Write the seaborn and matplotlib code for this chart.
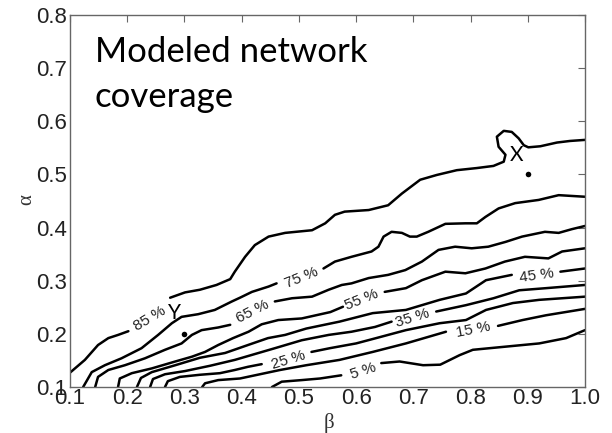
import numpy as np
import pandas as pd
import matplotlib
matplotlib.use("Agg")
import matplotlib.pyplot as plt
import seaborn as sns

# ---------------- data ----------------
levels = [85, 75, 65, 55, 45, 35, 25, 15, 5]

lv85_x = [0.100, 0.126, 0.149, 0.167, 0.184, 0.202,
          0.275, 0.301, 0.327, 0.356, 0.380, 0.388, 0.406, 0.423, 0.447, 0.476, 0.523,
          0.546, 0.563, 0.580, 0.622, 0.656, 0.680, 0.712, 0.741, 0.776, 0.811, 0.840,
          0.858, 0.861, 0.849, 0.846, 0.858, 0.872, 0.884, 0.893, 0.901, 0.922, 0.951,
          0.974, 1.000]
lv85_y = [0.127, 0.151, 0.179, 0.192, 0.198, 0.205,
          0.268, 0.278, 0.283, 0.292, 0.303, 0.317, 0.345, 0.367, 0.383, 0.390, 0.395,
          0.408, 0.424, 0.430, 0.433, 0.442, 0.464, 0.490, 0.499, 0.508, 0.512, 0.516,
          0.524, 0.537, 0.552, 0.571, 0.582, 0.580, 0.568, 0.555, 0.551, 0.553, 0.560,
          0.563, 0.565]
lv85_cut = 6

lv75_x = [0.123, 0.138, 0.161, 0.190, 0.225, 0.254, 0.278, 0.295, 0.324, 0.353, 0.383,
          0.397, 0.418, 0.447, 0.461,
          0.543, 0.563, 0.592, 0.627, 0.639, 0.648, 0.662, 0.680, 0.694, 0.706, 0.726,
          0.756, 0.791, 0.811, 0.826, 0.849, 0.878, 0.919, 0.954, 1.000]
lv75_y = [0.100, 0.128, 0.141, 0.154, 0.173, 0.198, 0.220, 0.232, 0.237, 0.245, 0.261,
          0.268, 0.279, 0.289, 0.295,
          0.323, 0.336, 0.345, 0.355, 0.364, 0.383, 0.392, 0.390, 0.383, 0.383, 0.392,
          0.407, 0.408, 0.408, 0.420, 0.436, 0.446, 0.452, 0.461, 0.458]
lv75_cut = 15

lv65_x = [0.144, 0.149, 0.167, 0.196, 0.231, 0.266, 0.295, 0.313, 0.330, 0.359, 0.380,
          0.458, 0.488, 0.523, 0.552, 0.575, 0.592, 0.622, 0.656, 0.686, 0.715, 0.744,
          0.773, 0.802, 0.831, 0.861, 0.890, 0.930, 0.954, 0.977, 1.000]
lv65_y = [0.100, 0.119, 0.132, 0.141, 0.154, 0.170, 0.182, 0.198, 0.207, 0.212, 0.217,
          0.261, 0.267, 0.270, 0.283, 0.292, 0.295, 0.305, 0.311, 0.320, 0.336, 0.358,
          0.364, 0.361, 0.364, 0.373, 0.383, 0.392, 0.390, 0.397, 0.403]
lv65_cut = 11

lv55_x = [0.184, 0.187, 0.208, 0.243, 0.284, 0.313, 0.336, 0.359, 0.385, 0.412, 0.435,
          0.464, 0.505, 0.555, 0.577,
          0.650, 0.687, 0.715, 0.756, 0.791, 0.826, 0.860, 0.895, 0.936, 0.960, 1.000]
lv55_y = [0.100, 0.116, 0.126, 0.135, 0.148, 0.157, 0.166, 0.179, 0.192, 0.204, 0.218,
          0.226, 0.229, 0.241, 0.251,
          0.279, 0.286, 0.301, 0.317, 0.314, 0.323, 0.336, 0.345, 0.342, 0.355, 0.361]
lv55_cut = 15

lv45_x = [0.217, 0.224, 0.243, 0.284, 0.327, 0.371, 0.411, 0.446, 0.476, 0.513, 0.571,
          0.629, 0.687, 0.746, 0.792, 0.827, 0.872,
          0.957, 1.000]
lv45_y = [0.100, 0.117, 0.128, 0.141, 0.155, 0.164, 0.179, 0.192, 0.198, 0.210, 0.223,
          0.239, 0.245, 0.264, 0.276, 0.301, 0.311,
          0.317, 0.323]
lv45_cut = 17

lv35_x = [0.240, 0.245, 0.266, 0.301, 0.345, 0.388, 0.423, 0.458, 0.505, 0.552, 0.592,
          0.633, 0.662,
          0.740, 0.792, 0.840, 0.885, 0.932, 1.000]
lv35_y = [0.100, 0.115, 0.124, 0.130, 0.140, 0.151, 0.162, 0.173, 0.188, 0.198, 0.204,
          0.213, 0.223,
          0.242, 0.254, 0.267, 0.282, 0.286, 0.292]
lv35_cut = 13

lv25_x = [0.266, 0.271, 0.292, 0.327, 0.362, 0.388, 0.411, 0.435,
          0.522, 0.554, 0.600, 0.635, 0.687, 0.746, 0.792, 0.827, 0.874, 0.920, 1.000]
lv25_y = [0.100, 0.111, 0.119, 0.123, 0.126, 0.132, 0.138, 0.143,
          0.166, 0.173, 0.182, 0.192, 0.207, 0.220, 0.226, 0.245, 0.258, 0.264, 0.270]
lv25_cut = 8

lv15_x = [0.331, 0.336, 0.359, 0.397, 0.432, 0.467, 0.513, 0.571, 0.629, 0.687, 0.757,
          0.848, 0.891, 0.932, 1.000]
lv15_y = [0.100, 0.107, 0.113, 0.116, 0.124, 0.132, 0.141, 0.151, 0.166, 0.182, 0.204,
          0.215, 0.226, 0.235, 0.247]
lv15_cut = 11

lv5_x = [0.453, 0.470, 0.505, 0.537, 0.574,
         0.644, 0.676, 0.717, 0.747, 0.781, 0.804, 0.862, 0.920, 0.967, 1.000]
lv5_y = [0.100, 0.110, 0.113, 0.116, 0.122,
         0.145, 0.148, 0.141, 0.142, 0.160, 0.170, 0.176, 0.182, 0.192, 0.207]
lv5_cut = 5

# contour label anchors and angles
label_x = [0.240, 0.505, 0.420, 0.610, 0.915, 0.699, 0.482, 0.804, 0.612]
label_y = [0.229, 0.306, 0.242, 0.264, 0.309, 0.229, 0.151, 0.207, 0.129]
label_rot = [31, 22, 27, 22, 8, 17, 17, 11, 18]

# marked points
point_x = [0.3, 0.9]
point_y = [0.2, 0.5]
point_names = ["Y", "X"]
name_x = [0.282, 0.881]
name_y = [0.240, 0.536]

x_ticks = [0.1, 0.2, 0.3, 0.4, 0.5, 0.6, 0.7, 0.8, 0.9, 1.0]
y_ticks = [0.1, 0.2, 0.3, 0.4, 0.5, 0.6, 0.7, 0.8]

# ---------------- build tidy table ----------------
series = {
    85: (lv85_x, lv85_y, lv85_cut), 75: (lv75_x, lv75_y, lv75_cut),
    65: (lv65_x, lv65_y, lv65_cut), 55: (lv55_x, lv55_y, lv55_cut),
    45: (lv45_x, lv45_y, lv45_cut), 35: (lv35_x, lv35_y, lv35_cut),
    25: (lv25_x, lv25_y, lv25_cut), 15: (lv15_x, lv15_y, lv15_cut),
    5: (lv5_x, lv5_y, lv5_cut),
}
rows = []
for lev in levels:
    xs, ys, cut = series[lev]
    for seg, (a, b) in enumerate([(0, cut), (cut, len(xs))]):
        for i in range(a, b):
            rows.append({"beta": xs[i], "alpha": ys[i], "unit": f"{lev}_{seg}"})
df = pd.DataFrame(rows)

# ---------------- draw ----------------
sns.set_style("white")
plt.rcParams["font.family"] = ["Liberation Sans", "DejaVu Sans"]

fig = plt.figure(figsize=(6.12, 4.33), dpi=100)
ax = fig.add_axes([70 / 612, 46 / 433, 515 / 612, 372 / 433])

sns.lineplot(data=df, x="beta", y="alpha", units="unit", estimator=None, sort=False,
             color="black", lw=1.8, ax=ax, legend=False,
             solid_joinstyle="round", solid_capstyle="round")
sns.scatterplot(x=point_x, y=point_y, color="black", s=16, ax=ax, legend=False,
                edgecolor="black", linewidth=0)

for lev, lx, ly, rot in zip(levels, label_x, label_y, label_rot):
    ax.text(lx, ly, f"{lev} %", rotation=rot, ha="center", va="center",
            fontsize=11, color="#222222")

for nm, nx, ny in zip(point_names, name_x, name_y):
    ax.text(nx, ny, nm, ha="center", va="center", fontsize=15, color="black",
            family=["Lato", "DejaVu Sans"], fontweight="normal")

ax.set_xlim(0.1, 1.0)
ax.set_ylim(0.1, 0.8)
ax.set_xticks(x_ticks)
ax.set_yticks(y_ticks)
ax.set_xticklabels([f"{v:.1f}" for v in x_ticks])
ax.set_yticklabels([f"{v:.1f}" for v in y_ticks])
ax.tick_params(direction="in", top=True, right=True, length=5, width=0.8,
               labelsize=16, labelcolor="#222222", color="#666666")
ax.tick_params(axis="x", pad=1)
ax.tick_params(axis="y", pad=2)
for sp in ax.spines.values():
    sp.set_color("#666666")
    sp.set_linewidth(1.0)
ax.set_xlabel("")
ax.set_ylabel("")

fig.text(27 / 612, 1 - 200 / 433, "α", rotation=90, ha="center", va="center",
         fontsize=15, family=["Liberation Serif", "DejaVu Serif"], color="#333333")
fig.text(329 / 612, 1 - 423 / 433, "β", ha="center", va="center",
         fontsize=15, family=["Liberation Serif", "DejaVu Serif"], color="#333333")

fig.text(95 / 612, 1 - 62 / 433, "Modeled network", ha="left", va="baseline",
         fontsize=25, family=["Lato", "DejaVu Sans"], color="black")
fig.text(95 / 612, 1 - 107 / 433, "coverage", ha="left", va="baseline",
         fontsize=25, family=["Lato", "DejaVu Sans"], color="black")

fig.savefig("out.png", dpi=100)
